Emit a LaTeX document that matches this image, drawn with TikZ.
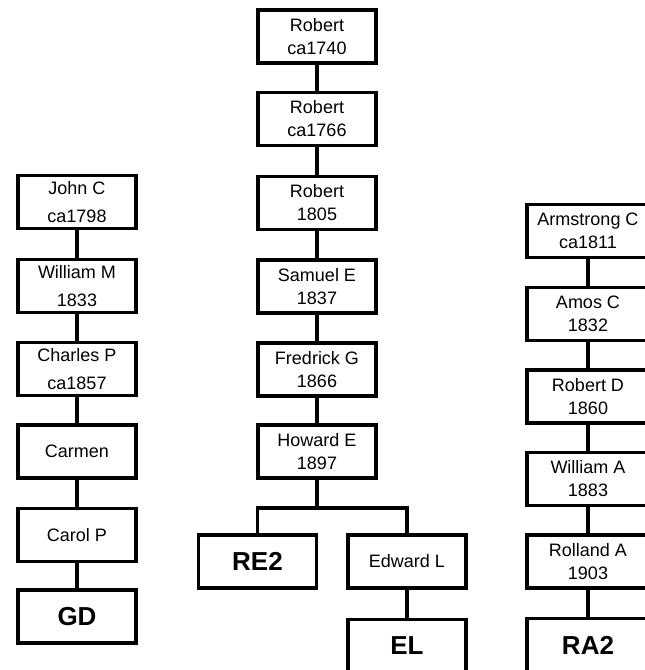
\documentclass[tikz,border=0pt]{standalone}
\usepackage{fontspec}
\setmainfont{Liberation Sans}
\begin{document}
\begin{tikzpicture}[x=1pt,y=-1pt,
  person/.style={draw, line width=3.5pt, minimum width=118pt, minimum height=53pt,
    inner sep=0pt, align=center, font=\fontsize{18}{23}\selectfont},
  personwide/.style={person, font=\fontsize{18}{28}\selectfont},
  final/.style={person, font=\fontsize{26}{30}\selectfont\bfseries},
  rightbox/.style={minimum width=122pt},
  link/.style={line width=3.5pt}]
\useasboundingbox (0,0) rectangle (645,670);
\clip (0,0) rectangle (645,670);

% left column
\node[personwide] (l1) at (77,202) {John C\\ca1798};
\node[personwide] (l2) at (77,286) {William M\\1833};
\node[personwide] (l3) at (77,369) {Charles P\\ca1857};
\node[person] (l4) at (77,451.5) {Carmen};
\node[person] (l5) at (77,535) {Carol P};
\node[final] (l6) at (77,616.5) {GD};
\foreach \a/\b in {l1/l2,l2/l3,l3/l4,l4/l5,l5/l6} \draw[link] (\a) -- (\b);

% middle column
\node[person] (m1) at (317,36.5) {Robert\\ca1740};
\node[person] (m2) at (317,119) {Robert\\ca1766};
\node[person] (m3) at (317,203) {Robert\\1805};
\node[person] (m4) at (317,286.5) {Samuel E\\1837};
\node[person] (m5) at (317,369.5) {Fredrick G\\1866};
\node[person] (m6) at (317,451.5) {Howard E\\1897};
\node[final] (re2) at (257.5,561.5) {RE2};
\node[person] (ed) at (407,561.5) {Edward L};
\node[final] (el) at (407,646) {EL};
\foreach \a/\b in {m1/m2,m2/m3,m3/m4,m4/m5,m5/m6,ed/el} \draw[link] (\a) -- (\b);
\coordinate (bar) at (317,508);
\draw[link] (m6) -- (bar);
\draw[link] (re2.north) |- (bar) -| (ed.north);

% right column
\node[person,rightbox] (r1) at (588,231) {Armstrong C\\ca1811};
\node[person,rightbox] (r2) at (588,314) {Amos C\\1832};
\node[person,rightbox] (r3) at (588,396.5) {Robert D\\1860};
\node[person,rightbox] (r4) at (588,479) {William A\\1883};
\node[person,rightbox] (r5) at (588,561.5) {Rolland A\\1903};
\node[final,rightbox] (r6) at (588,645) {RA2};
\foreach \a/\b in {r1/r2,r2/r3,r3/r4,r4/r5,r5/r6} \draw[link] (\a) -- (\b);
\end{tikzpicture}
\end{document}
